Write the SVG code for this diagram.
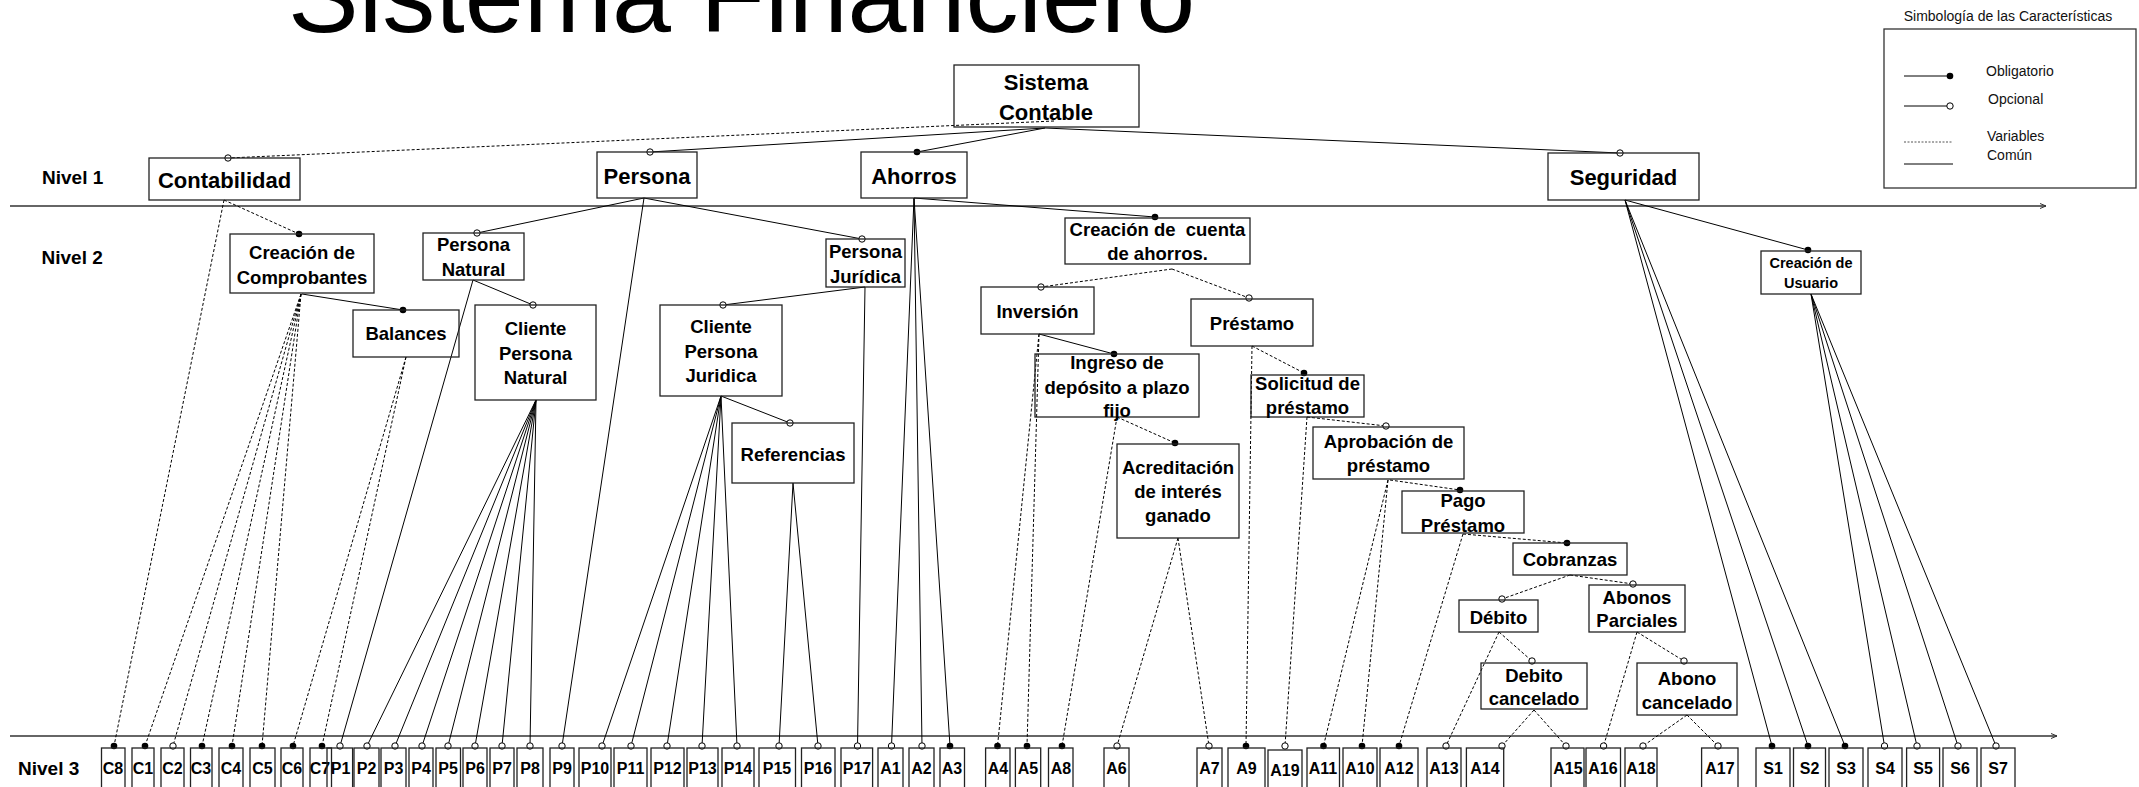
<svg xmlns="http://www.w3.org/2000/svg" width="2139" height="787" viewBox="0 0 2139 787">
<style>
.t{font-family:"Liberation Sans",Arial,sans-serif;fill:#000}
.n{font-family:"Liberation Sans",Arial,sans-serif;font-weight:bold;font-size:18.5px;text-anchor:middle;fill:#000}
.l1{font-size:22px}
.sm{font-size:14.5px}
.lf{font-family:"Liberation Sans",Arial,sans-serif;font-weight:bold;font-size:16px;text-anchor:middle;fill:#000}
.lv{font-family:"Liberation Sans",Arial,sans-serif;font-weight:bold;font-size:19px;fill:#000}
.lg{font-family:"Liberation Sans",Arial,sans-serif;font-size:14px;fill:#111}
.box{fill:none;stroke:#222;stroke-width:1.3}
.s{stroke:#000;stroke-width:1;fill:none}
.d{stroke:#000;stroke-width:1;stroke-dasharray:3 2;fill:none}
.F{marker-end:url(#mf)}
.H{marker-end:url(#mh)}
.sep{stroke:#333;stroke-width:1.5;fill:none;marker-end:url(#arr)}
</style>
<defs>
<marker id="mf" viewBox="-5 -5 10 10" refX="0" refY="0" markerWidth="10" markerHeight="10" markerUnits="userSpaceOnUse"><circle r="3.3" fill="#000"/></marker>
<marker id="mh" viewBox="-5 -5 10 10" refX="0" refY="0" markerWidth="10" markerHeight="10" markerUnits="userSpaceOnUse"><circle r="3.2" fill="#fff" stroke="#000" stroke-width="1"/></marker>
<marker id="arr" viewBox="0 0 8 8" refX="7" refY="4" markerWidth="8" markerHeight="8" markerUnits="userSpaceOnUse" orient="auto"><path d="M1,1.5 L7,4 L1,6.5" fill="none" stroke="#333" stroke-width="1"/></marker>
</defs>
<rect width="2139" height="787" fill="#fff"/>

<text class="t" x="288" y="32" font-size="106">Sistema Financiero</text>

<g id="niveles">
<line class="sep" x1="10" y1="206" x2="2046" y2="206"/>
<line class="sep" x1="10" y1="736" x2="2057" y2="736"/>
<text class="lv" x="42" y="183.5">Nivel 1</text>
<text class="lv" x="41.5" y="263.5">Nivel 2</text>
<text class="lv" x="18" y="774.5">Nivel 3</text>
</g>

<g id="leyenda">
<text class="lg" x="2008" y="21" text-anchor="middle" font-size="13.5">Simbología de las Características</text>
<rect x="1884" y="29" width="252" height="159" fill="none" stroke="#333" stroke-width="1.3"/>
<line class="s F" x1="1904" y1="76" x2="1950" y2="76"/>
<text class="lg" x="1986" y="76">Obligatorio</text>
<line class="s H" x1="1904" y1="106" x2="1950" y2="106"/>
<text class="lg" x="1988" y="104">Opcional</text>
<line x1="1904" y1="142" x2="1953" y2="142" stroke="#555" stroke-width="1" stroke-dasharray="2 1.5"/>
<text class="lg" x="1987" y="141">Variables</text>
<line class="s" x1="1904" y1="164" x2="1953" y2="164"/>
<text class="lg" x="1987" y="160">Común</text>
</g>

<g id="connectors">
<line class="d H" x1="1054" y1="121" x2="228" y2="158"/>
<line class="s H" x1="1045" y1="128" x2="650" y2="152"/>
<line class="s F" x1="1045" y1="128" x2="917" y2="152"/>
<line class="s H" x1="1045" y1="128" x2="1620" y2="153"/>
<line class="d F" x1="224" y1="200" x2="299" y2="234"/>
<line class="d F" x1="224" y1="200" x2="114" y2="746"/>
<line class="s F" x1="302" y1="294" x2="403" y2="310"/>
<line class="d F" x1="301" y1="294" x2="145" y2="746"/>
<line class="d H" x1="301" y1="294" x2="173" y2="746"/>
<line class="d F" x1="301" y1="294" x2="202" y2="746"/>
<line class="d F" x1="301" y1="294" x2="232" y2="746"/>
<line class="d F" x1="301" y1="294" x2="262" y2="746"/>
<line class="d F" x1="406" y1="357" x2="293" y2="746"/>
<line class="d F" x1="406" y1="357" x2="322" y2="746"/>
<line class="s H" x1="644" y1="198" x2="477" y2="233"/>
<line class="s H" x1="644" y1="198" x2="862" y2="239"/>
<line class="s H" x1="644" y1="198" x2="562" y2="746"/>
<line class="s H" x1="473" y1="280" x2="533" y2="305"/>
<line class="s H" x1="473" y1="280" x2="340" y2="746"/>
<line class="s H" x1="536" y1="400" x2="367" y2="746"/>
<line class="s H" x1="536" y1="400" x2="395" y2="746"/>
<line class="s H" x1="536" y1="400" x2="422" y2="746"/>
<line class="s H" x1="536" y1="400" x2="448" y2="746"/>
<line class="s H" x1="536" y1="400" x2="475" y2="746"/>
<line class="s H" x1="536" y1="400" x2="502" y2="746"/>
<line class="s H" x1="536" y1="400" x2="530" y2="746"/>
<line class="s H" x1="865" y1="287" x2="723" y2="305"/>
<line class="s H" x1="865" y1="287" x2="857.5" y2="746"/>
<line class="s H" x1="721" y1="396" x2="790" y2="423"/>
<line class="s H" x1="721" y1="396" x2="602" y2="746"/>
<line class="s H" x1="721" y1="396" x2="631" y2="746"/>
<line class="s H" x1="721" y1="396" x2="667" y2="746"/>
<line class="s H" x1="721" y1="396" x2="702" y2="746"/>
<line class="s H" x1="721" y1="396" x2="737" y2="746"/>
<line class="s H" x1="793" y1="483" x2="779" y2="746"/>
<line class="s H" x1="793" y1="483" x2="818" y2="746"/>
<line class="s F" x1="914" y1="198" x2="1155" y2="217"/>
<line class="s H" x1="914" y1="198" x2="891.5" y2="746"/>
<line class="s H" x1="914" y1="198" x2="922" y2="746"/>
<line class="s F" x1="914" y1="198" x2="950" y2="746"/>
<line class="d H" x1="1172" y1="269" x2="1041" y2="287"/>
<line class="d H" x1="1172" y1="269" x2="1249" y2="298"/>
<line class="s F" x1="1039" y1="334" x2="1114" y2="354"/>
<line class="d F" x1="1039" y1="334" x2="997.5" y2="746"/>
<line class="d F" x1="1039" y1="334" x2="1027" y2="746"/>
<line class="d F" x1="1117" y1="417" x2="1175" y2="443"/>
<line class="d F" x1="1117" y1="417" x2="1062" y2="746"/>
<line class="d H" x1="1178" y1="538" x2="1117" y2="746"/>
<line class="d H" x1="1178" y1="538" x2="1209" y2="746"/>
<line class="d F" x1="1252" y1="346" x2="1304" y2="373"/>
<line class="d F" x1="1252" y1="346" x2="1246" y2="746"/>
<line class="d H" x1="1307" y1="417" x2="1386" y2="426"/>
<line class="d H" x1="1307" y1="417" x2="1285" y2="746"/>
<line class="d F" x1="1390" y1="480" x2="1460" y2="490"/>
<line class="d F" x1="1388" y1="480" x2="1323.5" y2="746"/>
<line class="d F" x1="1388" y1="480" x2="1362" y2="746"/>
<line class="d F" x1="1463" y1="534" x2="1567" y2="543"/>
<line class="d F" x1="1463" y1="534" x2="1399" y2="746"/>
<line class="d H" x1="1570" y1="575" x2="1502" y2="599"/>
<line class="d H" x1="1570" y1="575" x2="1633" y2="584"/>
<line class="d H" x1="1499" y1="632" x2="1532" y2="661"/>
<line class="d H" x1="1499" y1="632" x2="1446" y2="746"/>
<line class="d H" x1="1534" y1="710" x2="1502" y2="746"/>
<line class="d H" x1="1534" y1="710" x2="1566" y2="746"/>
<line class="d H" x1="1637" y1="632" x2="1684" y2="661"/>
<line class="d H" x1="1637" y1="632" x2="1603.6" y2="746"/>
<line class="d H" x1="1687" y1="715" x2="1643" y2="746"/>
<line class="d H" x1="1687" y1="715" x2="1718" y2="746"/>
<line class="s F" x1="1625" y1="200" x2="1808" y2="250"/>
<line class="s F" x1="1625" y1="200" x2="1772" y2="746"/>
<line class="s F" x1="1625" y1="200" x2="1808" y2="746"/>
<line class="s F" x1="1625" y1="200" x2="1845" y2="746"/>
<line class="s H" x1="1811" y1="294" x2="1884.5" y2="746"/>
<line class="s H" x1="1811" y1="294" x2="1917" y2="746"/>
<line class="s H" x1="1811" y1="294" x2="1958" y2="746"/>
<line class="s H" x1="1811" y1="294" x2="1996" y2="746"/>
</g>

<g id="sistema-contable"><rect class="box" x="954" y="65" width="185" height="62"/><text class="n l1" x="1046" y="90">Sistema</text><text class="n l1" x="1046" y="120">Contable</text></g>
<g id="contabilidad"><rect class="box" x="149" y="158" width="151" height="42"/><text class="n l1" x="224.5" y="188">Contabilidad</text></g>
<g id="persona"><rect class="box" x="597" y="152" width="100" height="46"/><text class="n l1" x="647" y="184">Persona</text></g>
<g id="ahorros"><rect class="box" x="861" y="152" width="106" height="46"/><text class="n l1" x="914" y="184">Ahorros</text></g>
<g id="seguridad"><rect class="box" x="1548" y="153" width="151" height="47"/><text class="n l1" x="1623.5" y="185">Seguridad</text></g>

<g id="creacion-comprobantes"><rect class="box" x="230" y="234" width="144" height="59"/><text class="n" x="302" y="258.5">Creación de</text><text class="n" x="302" y="283.5">Comprobantes</text></g>
<g id="balances"><rect class="box" x="353" y="310" width="106" height="47"/><text class="n" x="406" y="339.5">Balances</text></g>
<g id="persona-natural"><rect class="box" x="423" y="233" width="101" height="47"/><text class="n" x="473.5" y="250.5">Persona</text><text class="n" x="473.5" y="275.5">Natural</text></g>
<g id="cliente-persona-natural"><rect class="box" x="475" y="305" width="121" height="95"/><text class="n" x="535.5" y="334.5">Cliente</text><text class="n" x="535.5" y="359.5">Persona</text><text class="n" x="535.5" y="383.5">Natural</text></g>
<g id="persona-juridica"><rect class="box" x="826" y="239" width="79" height="48"/><text class="n" x="865.5" y="257.5">Persona</text><text class="n" x="865.5" y="282.5">Jurídica</text></g>
<g id="cliente-persona-juridica"><rect class="box" x="660" y="305" width="122" height="91"/><text class="n" x="721" y="332.5">Cliente</text><text class="n" x="721" y="357.5">Persona</text><text class="n" x="721" y="381.5">Juridica</text></g>
<g id="referencias"><rect class="box" x="732" y="423" width="122" height="60"/><text class="n" x="793" y="460.5">Referencias</text></g>
<g id="creacion-cuenta"><rect class="box" x="1065" y="218" width="185" height="46"/><text class="n" x="1157.5" y="235.5" style="white-space:pre">Creación de  cuenta</text><text class="n" x="1157.5" y="259.5">de ahorros.</text></g>
<g id="inversion"><rect class="box" x="981" y="287" width="113" height="47"/><text class="n" x="1037.5" y="317.5">Inversión</text></g>
<g id="prestamo"><rect class="box" x="1191" y="299" width="122" height="47"/><text class="n" x="1252" y="329.5">Préstamo</text></g>
<g id="ingreso-deposito"><rect class="box" x="1035" y="354" width="164" height="63"/><text class="n" x="1117" y="368.5">Ingreso de</text><text class="n" x="1117" y="393.5">depósito a plazo</text><text class="n" x="1117" y="416.5">fijo</text></g>
<g id="acreditacion"><rect class="box" x="1117" y="444" width="122" height="94"/><text class="n" x="1178" y="473.5">Acreditación</text><text class="n" x="1178" y="497.5">de interés</text><text class="n" x="1178" y="521.5">ganado</text></g>
<g id="solicitud-prestamo"><rect class="box" x="1251" y="375" width="113" height="42"/><text class="n" x="1307.5" y="389.5">Solicitud de</text><text class="n" x="1307.5" y="413.5">préstamo</text></g>
<g id="aprobacion-prestamo"><rect class="box" x="1313" y="427" width="151" height="52"/><text class="n" x="1388.5" y="447.5">Aprobación de</text><text class="n" x="1388.5" y="471.5">préstamo</text></g>
<g id="pago-prestamo"><rect class="box" x="1402" y="491" width="122" height="42"/><text class="n" x="1463" y="506.5">Pago</text><text class="n" x="1463" y="531.5">Préstamo</text></g>
<g id="cobranzas"><rect class="box" x="1513" y="543" width="114" height="32"/><text class="n" x="1570" y="565.5">Cobranzas</text></g>
<g id="debito"><rect class="box" x="1459" y="600" width="79" height="32"/><text class="n" x="1498.5" y="623.5">Débito</text></g>
<g id="abonos-parciales"><rect class="box" x="1589" y="585" width="96" height="47"/><text class="n" x="1637" y="603.5">Abonos</text><text class="n" x="1637" y="626.5">Parciales</text></g>
<g id="debito-cancelado"><rect class="box" x="1481" y="663" width="106" height="46"/><text class="n" x="1534" y="681.5">Debito</text><text class="n" x="1534" y="704.5">cancelado</text></g>
<g id="abono-cancelado"><rect class="box" x="1637" y="663" width="100" height="52"/><text class="n" x="1687" y="684.5">Abono</text><text class="n" x="1687" y="708.5">cancelado</text></g>
<g id="creacion-usuario"><rect class="box" x="1761" y="251" width="100" height="43"/><text class="n sm" x="1811" y="268">Creación de</text><text class="n sm" x="1811" y="288">Usuario</text></g>

<g id="C8"><rect class="box" x="101.5" y="748" width="23.5" height="45"/><text class="lf" x="113" y="774">C8</text></g>
<g id="C1"><rect class="box" x="132" y="748" width="22" height="45"/><text class="lf" x="143" y="774">C1</text></g>
<g id="C2"><rect class="box" x="161" y="748" width="23" height="45"/><text class="lf" x="172.5" y="774">C2</text></g>
<g id="C3"><rect class="box" x="190.5" y="748" width="21.5" height="45"/><text class="lf" x="201" y="774">C3</text></g>
<g id="C4"><rect class="box" x="219" y="748" width="24" height="45"/><text class="lf" x="231" y="774">C4</text></g>
<g id="C5"><rect class="box" x="250" y="748" width="25" height="45"/><text class="lf" x="262.5" y="774">C5</text></g>
<g id="C6"><rect class="box" x="281" y="748" width="22" height="45"/><text class="lf" x="292" y="774">C6</text></g>
<g id="C7"><rect class="box" x="310" y="748" width="21.5" height="45"/><text class="lf" x="320" y="774">C7</text></g>
<g id="P1"><rect class="box" x="327" y="748" width="25.6" height="45"/><text class="lf" x="340.5" y="774">P1</text></g>
<g id="P2"><rect class="box" x="354" y="748" width="25" height="45"/><text class="lf" x="366.5" y="774">P2</text></g>
<g id="P3"><rect class="box" x="381" y="748" width="25" height="45"/><text class="lf" x="393.5" y="774">P3</text></g>
<g id="P4"><rect class="box" x="409" y="748" width="24" height="45"/><text class="lf" x="421" y="774">P4</text></g>
<g id="P5"><rect class="box" x="436" y="748" width="24.5" height="45"/><text class="lf" x="448" y="774">P5</text></g>
<g id="P6"><rect class="box" x="463" y="748" width="24" height="45"/><text class="lf" x="475" y="774">P6</text></g>
<g id="P7"><rect class="box" x="490" y="748" width="24" height="45"/><text class="lf" x="502" y="774">P7</text></g>
<g id="P8"><rect class="box" x="517" y="748" width="26" height="45"/><text class="lf" x="530" y="774">P8</text></g>
<g id="P9"><rect class="box" x="550" y="748" width="24" height="45"/><text class="lf" x="562" y="774">P9</text></g>
<g id="P10"><rect class="box" x="579" y="748" width="32" height="45"/><text class="lf" x="595" y="774">P10</text></g>
<g id="P11"><rect class="box" x="614" y="748" width="33" height="45"/><text class="lf" x="630.5" y="774">P11</text></g>
<g id="P12"><rect class="box" x="651" y="748" width="33" height="45"/><text class="lf" x="667.5" y="774">P12</text></g>
<g id="P13"><rect class="box" x="687" y="748" width="31" height="45"/><text class="lf" x="702.5" y="774">P13</text></g>
<g id="P14"><rect class="box" x="722" y="748" width="32" height="45"/><text class="lf" x="738" y="774">P14</text></g>
<g id="P15"><rect class="box" x="759" y="748" width="36.5" height="45"/><text class="lf" x="777" y="774">P15</text></g>
<g id="P16"><rect class="box" x="801.5" y="748" width="33.5" height="45"/><text class="lf" x="818" y="774">P16</text></g>
<g id="P17"><rect class="box" x="841" y="748" width="31.6" height="45"/><text class="lf" x="857" y="774">P17</text></g>
<g id="A1"><rect class="box" x="878" y="748" width="25" height="45"/><text class="lf" x="890.5" y="774">A1</text></g>
<g id="A2"><rect class="box" x="909" y="748" width="25" height="45"/><text class="lf" x="921.5" y="774">A2</text></g>
<g id="A3"><rect class="box" x="940" y="748" width="24.5" height="45"/><text class="lf" x="952" y="774">A3</text></g>
<g id="A4"><rect class="box" x="985.6" y="748" width="24.4" height="45"/><text class="lf" x="998" y="774">A4</text></g>
<g id="A5"><rect class="box" x="1015.4" y="748" width="25.3" height="45"/><text class="lf" x="1028" y="774">A5</text></g>
<g id="A8"><rect class="box" x="1048.5" y="748" width="24.5" height="45"/><text class="lf" x="1061" y="774">A8</text></g>
<g id="A6"><rect class="box" x="1104" y="748" width="25" height="45"/><text class="lf" x="1116.5" y="774">A6</text></g>
<g id="A7"><rect class="box" x="1197" y="748" width="25" height="45"/><text class="lf" x="1209.5" y="774">A7</text></g>
<g id="A9"><rect class="box" x="1228" y="748" width="37" height="45"/><text class="lf" x="1246.5" y="774">A9</text></g>
<g id="A19"><rect class="box" x="1268" y="750" width="34" height="45"/><text class="lf" x="1285" y="776">A19</text></g>
<g id="A11"><rect class="box" x="1307" y="748" width="32.5" height="45"/><text class="lf" x="1323" y="774">A11</text></g>
<g id="A10"><rect class="box" x="1343" y="748" width="34" height="45"/><text class="lf" x="1360" y="774">A10</text></g>
<g id="A12"><rect class="box" x="1380" y="748" width="38" height="45"/><text class="lf" x="1399" y="774">A12</text></g>
<g id="A13"><rect class="box" x="1427" y="748" width="34" height="45"/><text class="lf" x="1444" y="774">A13</text></g>
<g id="A14"><rect class="box" x="1466.4" y="748" width="37.3" height="45"/><text class="lf" x="1485" y="774">A14</text></g>
<g id="A15"><rect class="box" x="1551" y="748" width="33" height="45"/><text class="lf" x="1568" y="774">A15</text></g>
<g id="A16"><rect class="box" x="1586" y="748" width="34.5" height="45"/><text class="lf" x="1603" y="774">A16</text></g>
<g id="A18"><rect class="box" x="1625" y="748" width="32" height="45"/><text class="lf" x="1641" y="774">A18</text></g>
<g id="A17"><rect class="box" x="1701.6" y="748" width="36.4" height="45"/><text class="lf" x="1720" y="774">A17</text></g>
<g id="S1"><rect class="box" x="1756" y="748" width="34" height="45"/><text class="lf" x="1773" y="774">S1</text></g>
<g id="S2"><rect class="box" x="1793.5" y="748" width="32" height="45"/><text class="lf" x="1809.5" y="774">S2</text></g>
<g id="S3"><rect class="box" x="1829" y="748" width="34" height="45"/><text class="lf" x="1846" y="774">S3</text></g>
<g id="S4"><rect class="box" x="1868" y="748" width="34" height="45"/><text class="lf" x="1885" y="774">S4</text></g>
<g id="S5"><rect class="box" x="1906.6" y="748" width="33" height="45"/><text class="lf" x="1923" y="774">S5</text></g>
<g id="S6"><rect class="box" x="1943" y="748" width="34" height="45"/><text class="lf" x="1960" y="774">S6</text></g>
<g id="S7"><rect class="box" x="1981" y="748" width="34" height="45"/><text class="lf" x="1998" y="774">S7</text></g>
</svg>
